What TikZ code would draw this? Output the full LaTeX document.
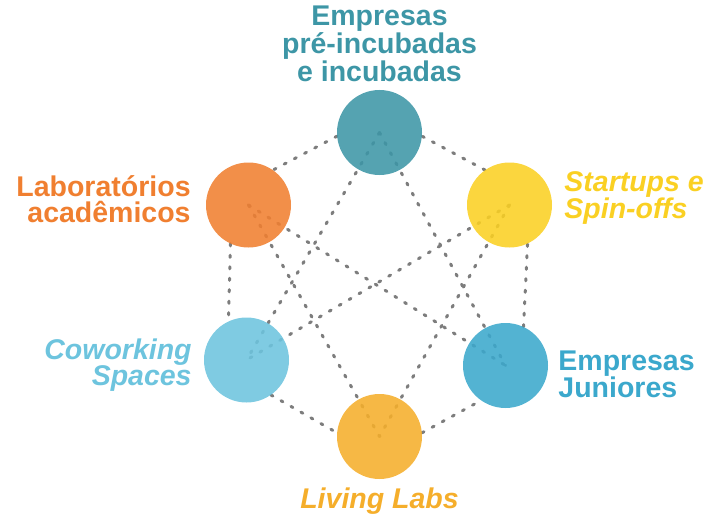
\documentclass[tikz,border=0pt]{standalone}
\usepackage{fontspec}
\setmainfont{Liberation Sans}
\usetikzlibrary{positioning}
\usetikzlibrary{backgrounds}
\definecolor{topteal}{RGB}{61,150,166}
\definecolor{laborange}{RGB}{240,127,48}
\definecolor{startyellow}{RGB}{250,208,35}
\definecolor{cowblue}{RGB}{109,196,222}
\definecolor{junblue}{RGB}{59,168,204}
\definecolor{livamber}{RGB}{245,174,43}
\definecolor{linkgray}{RGB}{125,125,125}
\newcommand\labfont{\bfseries\fontsize{28.5}{26}\selectfont}
\tikzset{
  hub/.style={circle,minimum size=85pt,inner sep=0pt,fill opacity=0.88},
  lbl/.style={font=\labfont,inner sep=0pt},
  itl/.style={font=\labfont\itshape},
  link/.style={draw=linkgray,line width=3pt,dash pattern=on 2.2pt off 9.3pt,line cap=round}
}

\begin{document}
\begin{tikzpicture}[x=1pt,y=-1pt]
            \useasboundingbox (0,0) rectangle (709,516);
            \node (top)   [hub,fill=topteal]     at (379.5,132.5) {};
            \node (lab)   [hub,fill=laborange]   at (248.5,205)   {};
            \node (start) [hub,fill=startyellow] at (509.5,205)   {};
            \node (cow)   [hub,fill=cowblue]     at (246.5,360)   {};
            \node (jun)   [hub,fill=junblue]     at (505.5,365.5) {};
            \node (liv)   [hub,fill=livamber]    at (379.5,436.5) {};

            \node (toptxt)   [lbl,text=topteal,align=center,above=8pt of top]               {Empresas\\pré-incubadas\\e incubadas};
            \node (labtxt)   [lbl,text=laborange,align=right,left=15pt of lab,yshift=6pt]    {Laboratórios\\acadêmicos};
            \node (starttxt) [lbl,itl,text=startyellow,align=left,right=12pt of start,yshift=7pt] {Startups e\\Spin-offs};
            \node (cowtxt)   [lbl,itl,text=cowblue,align=right,left=12pt of cow,yshift=-5pt]  {Coworking\\Spaces};
            \node (juntxt)   [lbl,text=junblue,align=left,right=10pt of jun,yshift=-9pt]      {Empresas\\Juniores};
            \node (livtxt)   [lbl,itl,text=livamber,below=8pt of liv]                          {Living Labs};

            \begin{scope}[on background layer]
                \foreach \a/\b in {top/cow,top/jun,lab/jun,lab/liv,start/cow,start/liv}
                    \draw[link] (\a.center) -- (\b.center);
                \foreach \a/\sa/\b/\sb in {top/185/lab/55,lab/245/cow/115,cow/305/liv/175,liv/5/jun/235,jun/65/start/295,start/125/top/355}
                    \draw[link] (\a.\sa) -- (\b.\sb);
            \end{scope}
        \end{tikzpicture}
\end{document}
